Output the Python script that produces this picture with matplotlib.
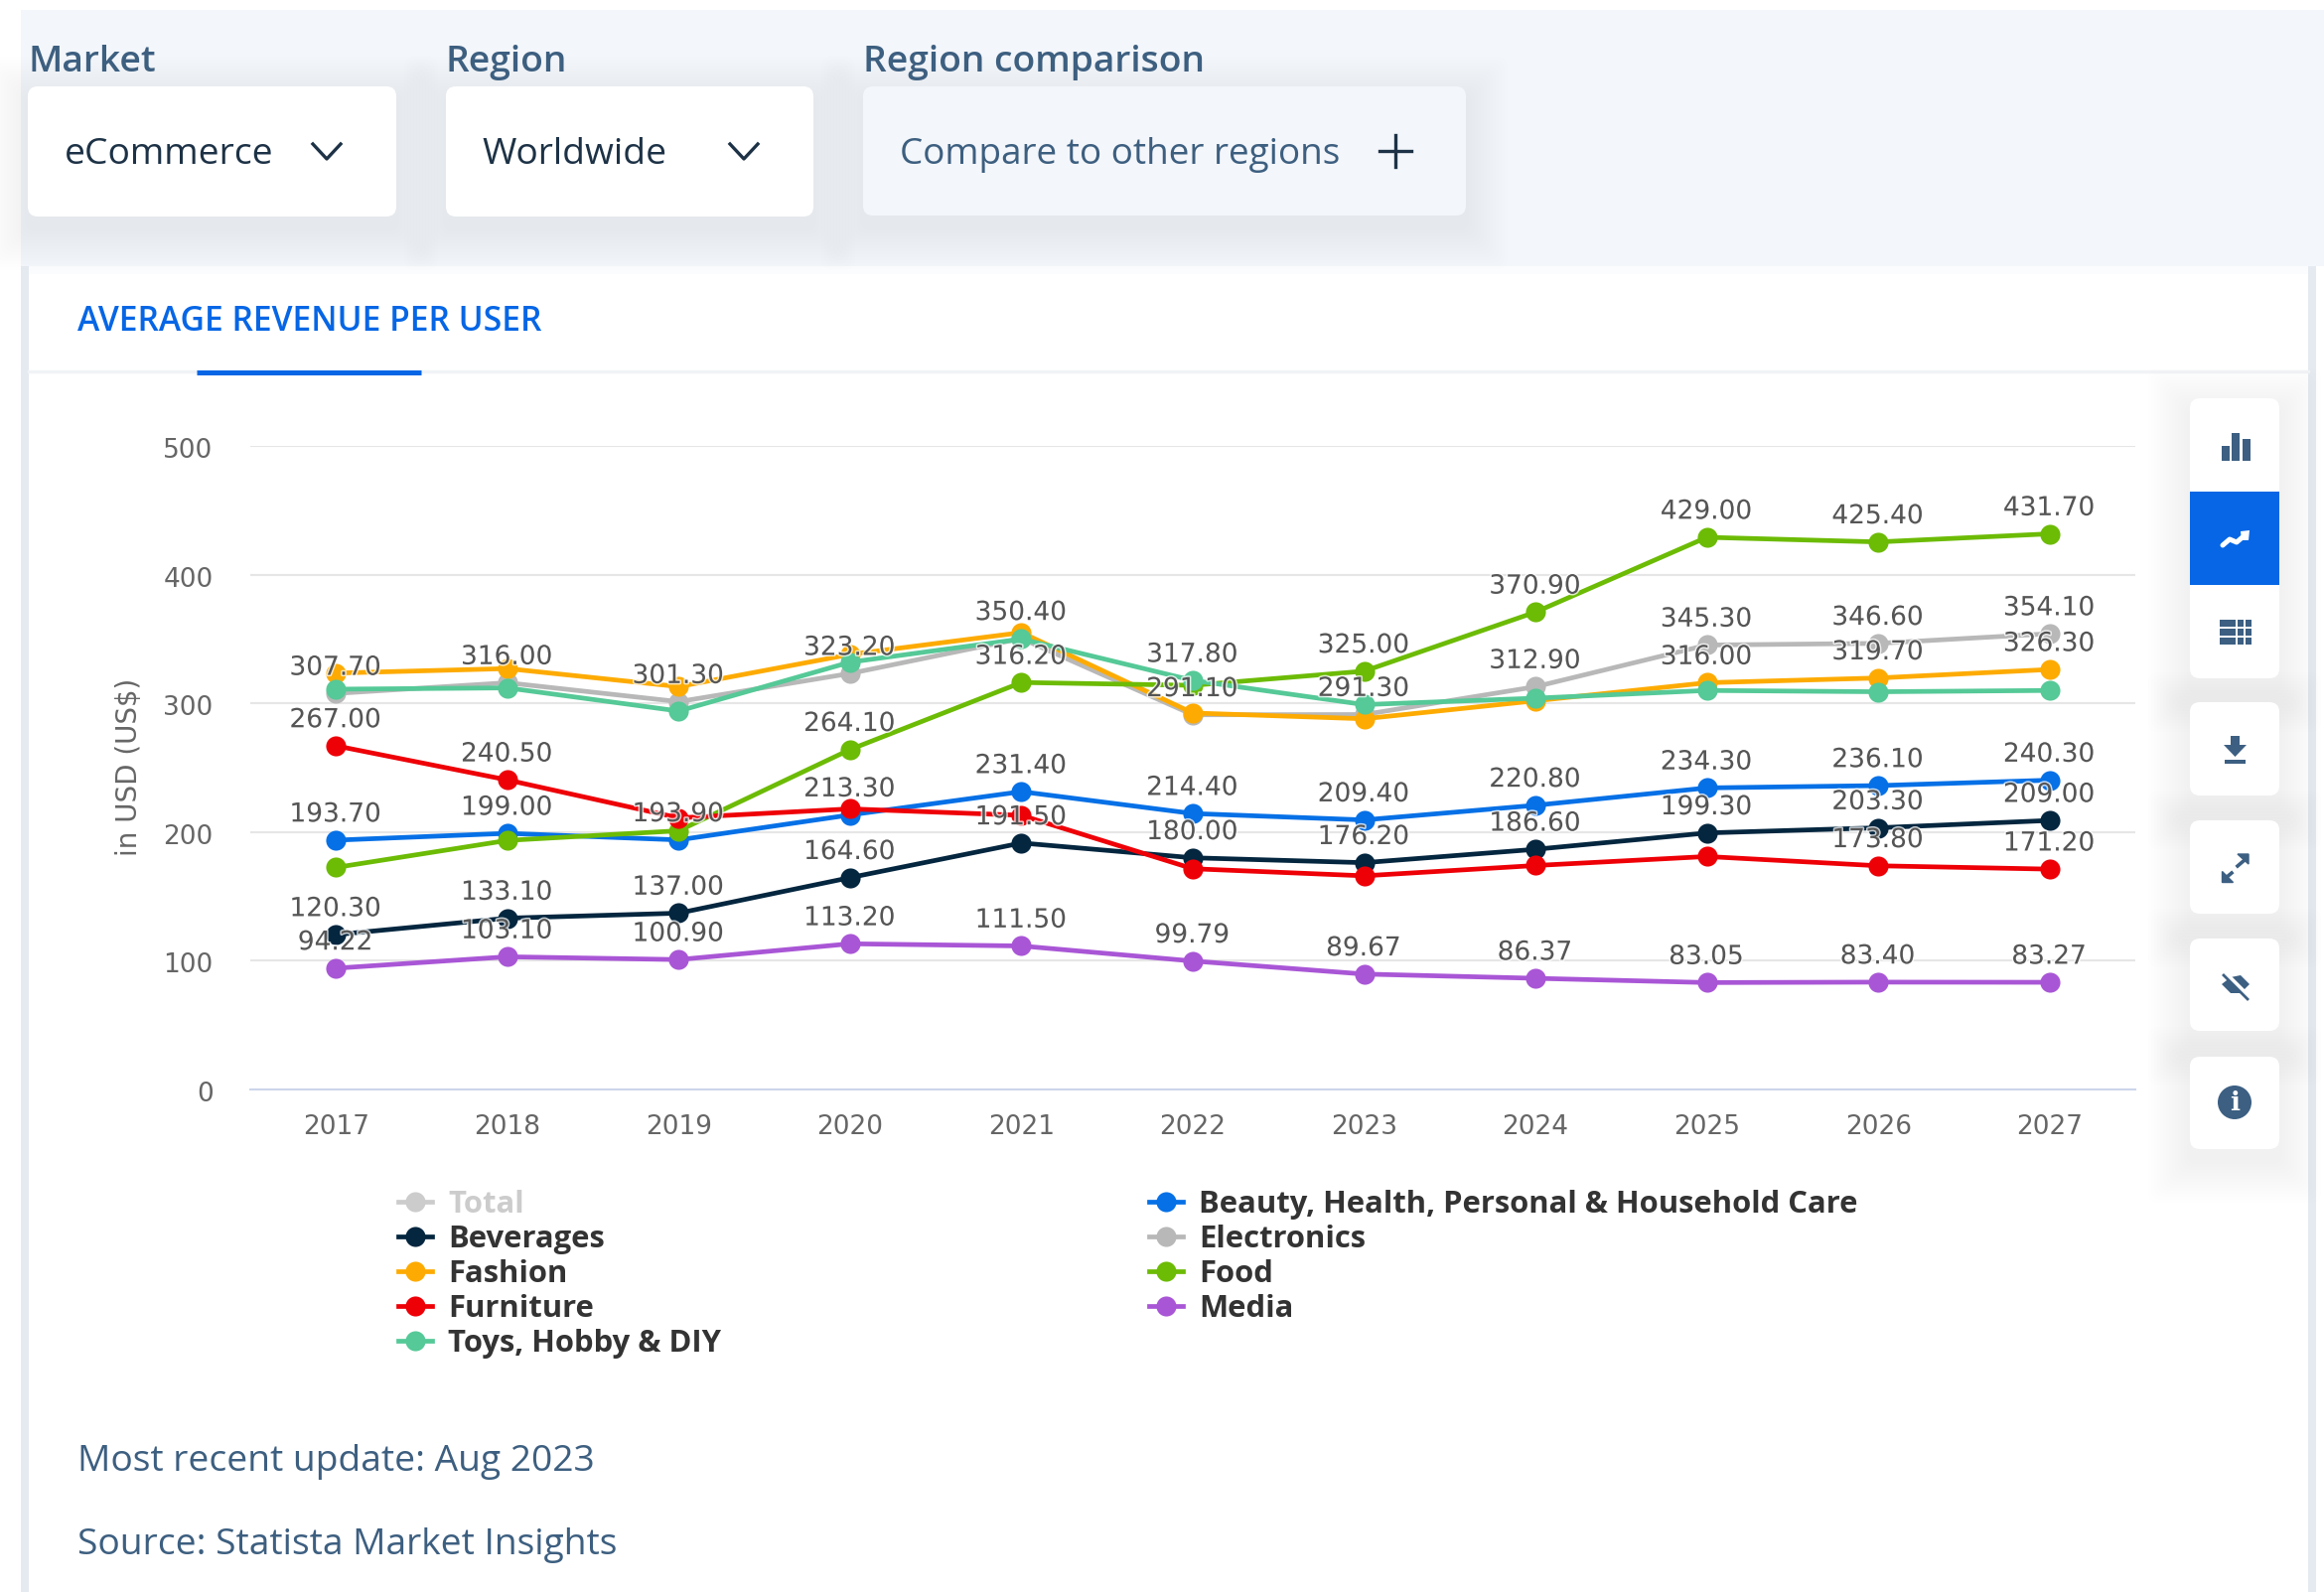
import matplotlib
matplotlib.use('Agg')
import matplotlib.pyplot as plt
import matplotlib.patheffects as pe
from matplotlib.patches import FancyBboxPatch, Rectangle, Circle, Polygon
from matplotlib.transforms import ScaledTranslation

W, H = 2340, 1603

# Chart data
years = ['2017', '2018', '2019', '2020', '2021', '2022', '2023', '2024', '2025', '2026', '2027']
beauty = [193.7, 199.0, 193.9, 213.3, 231.4, 214.4, 209.4, 220.8, 234.3, 236.1, 240.3]
beverages = [120.3, 133.1, 137.0, 164.6, 191.5, 180.0, 176.2, 186.6, 199.3, 203.3, 209.0]
electronics = [307.7, 316.0, 301.3, 323.2, 350.4, 291.1, 291.3, 312.9, 345.3, 346.6, 354.1]
fashion = [323.5, 327.0, 313.0, 338.0, 355.0, 292.5, 288.0, 302.0, 316.0, 319.7, 326.3]
food = [172.5, 193.5, 201.0, 264.1, 316.2, 314.0, 325.0, 370.9, 429.0, 425.4, 431.7]
furniture = [267.0, 240.5, 211.0, 218.0, 213.0, 171.5, 166.0, 174.0, 181.0, 173.8, 171.2]
media = [94.22, 103.1, 100.9, 113.2, 111.5, 99.79, 89.67, 86.37, 83.05, 83.4, 83.27]
toys = [311.0, 312.0, 294.0, 332.0, 350.0, 317.8, 299.0, 304.0, 310.0, 309.0, 310.0]

# Which years carry a value label (the rest are hidden by overlap)
all_years = years
beauty_shown = all_years
beverages_shown = all_years
electronics_shown = all_years
fashion_shown = ['2025', '2026', '2027']
food_shown = ['2020', '2021', '2023', '2024', '2025', '2026', '2027']
furniture_shown = ['2017', '2018', '2026', '2027']
media_shown = all_years
toys_shown = ['2022']

y_ticks = [0, 100, 200, 300, 400, 500]

# draw order follows the chart, legend order is set separately
series = [
    ('Beauty, Health, Personal & Household Care', beauty, '#0670e6', beauty_shown),
    ('Beverages', beverages, '#04263f', beverages_shown),
    ('Electronics', electronics, '#b8b8b8', electronics_shown),
    ('Fashion', fashion, '#fdab02', fashion_shown),
    ('Food', food, '#6cbb05', food_shown),
    ('Furniture', furniture, '#ee0007', furniture_shown),
    ('Media', media, '#a956d6', media_shown),
    ('Toys, Hobby & DIY', toys, '#55c997', toys_shown),
]
legend_order = ['Total', 'Beverages', 'Fashion', 'Furniture', 'Toys, Hobby & DIY',
                'Beauty, Health, Personal & Household Care', 'Electronics', 'Food', 'Media']

SANS = 'Open Sans'
SLATE = '#3d5f80'
ICON = '#3c5f82'

fig = plt.figure(figsize=(W / 100, H / 100), dpi=100, facecolor='white')

# page chrome, in pixel coordinates
bg = fig.add_axes([0, 0, 1, 1])
bg.set_xlim(0, W)
bg.set_ylim(H, 0)
bg.axis('off')


def box(x0, y0, x1, y1, color='white', r=10, shadow=0.0035, z=3):
    for i in range(14, 0, -1):
        g = i * 3
        bg.add_patch(FancyBboxPatch((x0 - g + r, y0 - g + 12 + r), x1 - x0 + 2 * g - 2 * r,
                                    y1 - y0 + 2 * g - 2 * r,
                                    boxstyle=f'round,pad={r}', fc='#55708f', ec='none',
                                    alpha=shadow, zorder=z - 1))
    bg.add_patch(FancyBboxPatch((x0 + r, y0 + r), x1 - x0 - 2 * r, y1 - y0 - 2 * r,
                                boxstyle=f'round,pad={r}', fc=color, ec='none', zorder=z))


bg.add_patch(Rectangle((21, 10), W - 21, 258, fc='#f3f6fa', ec='none', zorder=0))
bg.add_patch(Rectangle((21, 268), 8, H - 268, fc='#e5eaf1', ec='none', zorder=1.5))
bg.add_patch(Rectangle((2324, 268), 8, H - 268, fc='#e5eaf1', ec='none', zorder=1.5))
bg.add_patch(Rectangle((29, 268), 2295, 8, fc='#fbfcfd', ec='none', zorder=1.5))
bg.plot([29, 2324], [374, 374], color='#f1f3f6', lw=2.5, zorder=1.5)
bg.plot([198, 424], [375, 375], color='#0666e5', lw=3.6, solid_capstyle='butt', zorder=2)

box(28, 87, 399, 218)
box(449, 87, 819, 218)
box(869, 87, 1476, 217, color='#f3f6fa')

bg.text(29, 63, 'Market', fontsize=26.8, family=SANS, weight=600, color=SLATE, va='center', zorder=5)
bg.text(449, 63, 'Region', fontsize=26.8, family=SANS, weight=600, color=SLATE, va='center', zorder=5)
bg.text(869, 63, 'Region comparison', fontsize=26.8, family=SANS, weight=600, color=SLATE, va='center', zorder=5)
bg.text(65, 156, 'eCommerce', fontsize=26.8, family=SANS, color='#1d3246', va='center', zorder=5)
bg.text(485, 156, 'Worldwide', fontsize=26.8, family=SANS, color='#1d3246', va='center', zorder=5)
bg.text(906, 156, 'Compare to other regions', fontsize=26.6, family=SANS, color=SLATE, va='center', zorder=5)
for cx in (329, 749):
    bg.plot([cx - 14, cx, cx + 14], [145, 160, 145], color='#1d3246', lw=2.4, zorder=5)
bg.plot([1389, 1421], [152, 152], color='#1d3246', lw=2.4, zorder=5)
bg.plot([1405, 1405], [136, 168], color='#1d3246', lw=2.4, zorder=5)

bg.text(78, 324, 'AVERAGE REVENUE PER USER', fontsize=24.2, family=SANS, weight=600, color='#0666e5',
        va='center', zorder=5)
bg.text(78, 1472, 'Most recent update: Aug 2023', fontsize=26.7, family=SANS, color=SLATE, va='center', zorder=5)
bg.text(78, 1556, 'Source: Statista Market Insights', fontsize=26.7, family=SANS, color=SLATE, va='center', zorder=5)

# toolbar
box(2205, 401, 2295, 683)
box(2205, 707, 2295, 801)
box(2205, 826, 2295, 920)
box(2205, 945, 2295, 1038)
box(2205, 1064, 2295, 1157)
bg.add_patch(Rectangle((2205, 495), 90, 94, fc='#0666e5', ec='none', zorder=4))
# bars icon
for x0, top in ((2237, 449), (2247, 436), (2258, 442)):
    bg.add_patch(Rectangle((x0, top), 8, 464 - top, fc=ICON, ec='none', zorder=5))
# line icon
bg.plot([2238, 2245, 2252, 2259], [549, 543, 546, 540], color='white', lw=3.6,
        solid_capstyle='round', zorder=5)
bg.add_patch(Polygon([[2256, 535], [2265, 534], [2264, 544], [2257, 544]], fc='white', ec='none', zorder=5))
# table icon
for y0 in (624, 633, 642):
    bg.add_patch(Rectangle((2235, y0), 16, 7, fc=ICON, ec='none', zorder=5))
    bg.add_patch(Rectangle((2253, y0), 6, 7, fc=ICON, ec='none', zorder=5))
    bg.add_patch(Rectangle((2261, y0), 6, 7, fc=ICON, ec='none', zorder=5))
# download icon
bg.add_patch(Polygon([[2246, 741], [2255, 741], [2255, 750], [2262, 750], [2250.5, 762], [2239, 750], [2246, 750]],
                     fc=ICON, ec='none', zorder=5))
bg.add_patch(Rectangle((2240, 765), 21, 4, fc=ICON, ec='none', zorder=5))
# expand icon
bg.plot([2241, 2247], [884, 879], color=ICON, lw=2.6, zorder=5)
bg.plot([2253, 2260], [872, 866], color=ICON, lw=2.6, zorder=5)
bg.add_patch(Polygon([[2237, 877], [2237, 888], [2248, 888]], fc=ICON, ec=ICON, zorder=5))
bg.add_patch(Polygon([[2264, 860], [2253, 860], [2264, 870]], fc=ICON, ec=ICON, zorder=5))
# eye icon
bg.add_patch(Polygon([[2237, 991], [2246, 984], [2256, 982], [2265, 991], [2256, 1000], [2246, 1000]],
                     fc=ICON, ec='none', zorder=5))
bg.plot([2239, 2263], [979, 1003], color='white', lw=4, zorder=6)
bg.plot([2239, 2263], [982, 1006], color=ICON, lw=2, zorder=6)
# info icon
bg.add_patch(Circle((2250, 1110), 17, fc=ICON, ec='none', zorder=5))
bg.text(2250, 1110, 'i', color='white', fontsize=19, family='DejaVu Serif', weight='bold',
        ha='center', va='center', zorder=6)

# main chart
left, right, top, bottom = 252, 2150, 449, 1097
ax = fig.add_axes([left / W, 1 - bottom / H, (right - left) / W, (bottom - top) / H])
ax.patch.set_alpha(0)
x = list(range(len(years)))

lines = {}
for name, values, color, shown in series:
    lines[name], = ax.plot(x, values, color=color, lw=3.4, marker='o', ms=14.5, mew=0,
                           label=name, zorder=3, clip_on=False)

halo = [pe.withStroke(linewidth=2.2, foreground='white', alpha=0.75)]
for name, values, color, shown in series:
    for i, year in enumerate(years):
        if year in shown:
            ax.annotate(f'{values[i]:.2f}', (i, values[i]), xytext=(-0.5, 18.5), textcoords='offset points',
                        ha='center', va='center', fontsize=19, color='#555555', zorder=6,
                        annotation_clip=False, path_effects=halo)

ax.set_xlim(-0.5, len(years) - 0.5)
ax.set_ylim(0, 500)
ax.set_xticks(x)
ax.set_xticklabels(years)
ax.set_yticks(y_ticks)
ax.tick_params(axis='both', length=0, labelsize=19, labelcolor='#666666')
ax.tick_params(axis='x', pad=18)
ax.tick_params(axis='y', pad=27)
nudge = ScaledTranslation(0, -2 / 100, fig.dpi_scale_trans)
for lab in ax.get_yticklabels():
    lab.set_transform(lab.get_transform() + nudge)
ax.grid(axis='y', color='#e6e6e6', lw=1.5)
ax.set_axisbelow(True)
for s in ax.spines.values():
    s.set_visible(False)
ax.spines['bottom'].set_visible(True)
ax.spines['bottom'].set_color('#ccd6eb')
ax.spines['bottom'].set_linewidth(1.5)
ax.set_ylabel('in USD (US$)', fontsize=20, color='#666666')
ax.yaxis.set_label_coords((144 - left) / (right - left), (bottom - 772) / (bottom - top))

# legend, Total is switched off in the chart so it only has a grey entry
total_handle, = ax.plot([], [], color='#cccccc', lw=3.4, marker='o', ms=14.5, mew=0, label='Total')
lines['Total'] = total_handle
leg = fig.legend([lines[n] for n in legend_order], legend_order, loc='upper left', ncols=2,
                 bbox_to_anchor=(401 / W, 1 - 1198 / H), frameon=False, handlelength=1.1,
                 handletextpad=0.52, labelspacing=0.16, columnspacing=13.9, borderpad=0, borderaxespad=0,
                 prop={'family': SANS, 'weight': 'bold', 'size': 22.3})
for t in leg.get_texts():
    t.set_color('#cccccc' if t.get_text() == 'Total' else '#333333')

fig.savefig('out.png', dpi=100)
